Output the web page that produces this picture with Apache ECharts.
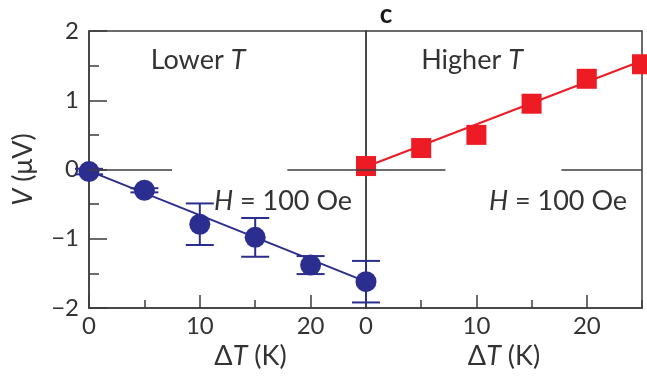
<!DOCTYPE html>
<html>
<head>
<meta charset="utf-8">
<script src="https://cdn.jsdelivr.net/npm/echarts@6/dist/echarts.min.js"></script>
<style>
html,body{margin:0;padding:0;background:#fff;}
#chart{width:647px;height:380px;}
</style>
</head>
<body>
<div id="chart"></div>
<script>
// ---- data ----
const lowerX = [0, 5, 10, 15, 20, 25];
const lowerV = [-0.03, -0.30, -0.79, -0.98, -1.38, -1.62];
const lowerErr = [0.04, 0.03, 0.30, 0.28, 0.13, 0.30];
const higherX = [0, 5, 10, 15, 20, 25];
const higherV = [0.05, 0.31, 0.50, 0.95, 1.31, 1.52];
const lowerFitX = [0, 25];
const lowerFitV = [-0.02, -1.62];
const higherFitX = [0, 25];
const higherFitV = [0.04, 1.57];
const zeroSegLeft = [[0, 7.5], [17.9, 25]];
const zeroSegRight = [[0, 7.2], [17.7, 25]];
const xMin = 0, xMax = 25, xMajor = 10, xMinor = 5;
const yMin = -2, yMax = 2, yMajor = 1;

const FONT = 'Lato';
const TXT = '#333333';
const AX = '#3c3c3c';
const BLUE = '#2b2e8e';
const RED = '#ed1c24';

const pairs = (xs, ys) => xs.map((x, i) => [x, ys[i]]);
const segs = s => s.map(p => [{coord: [p[0], 0]}, {coord: [p[1], 0]}]);

function xMain(gridIndex, namePad) {
  return {
    type: 'value', gridIndex, min: xMin, max: xMax, interval: xMajor, position: 'bottom',
    axisLine: {show: true, onZero: false, lineStyle: {color: AX, width: 1.5}},
    axisTick: {show: true, inside: true, length: 13, lineStyle: {color: AX, width: 1.5}},
    axisLabel: {show: true, margin: 6, fontSize: 24, fontFamily: FONT, color: TXT, showMaxLabel: false},
    splitLine: {show: false},
    name: 'Δ{i|T} (K)', nameLocation: 'middle', nameGap: 34,
    nameTextStyle: {fontSize: 27, fontFamily: FONT, color: TXT, padding: namePad,
      rich: {i: {fontStyle: 'italic', fontSize: 27, fontFamily: FONT, color: TXT}}}
  };
}
function xMinorAxis(gridIndex) {
  return {
    type: 'value', gridIndex, min: xMin, max: xMax, interval: xMinor, position: 'bottom',
    axisLine: {show: false, onZero: false},
    axisTick: {show: true, inside: true, length: 8, lineStyle: {color: AX, width: 1.5}},
    axisLabel: {show: false}, splitLine: {show: false}
  };
}

const option = {
  animation: false,
  backgroundColor: '#fff',
  grid: [
    {left: 89, top: 31, width: 277, height: 277, show: true, borderColor: AX, borderWidth: 1.5},
    {left: 366, top: 31, width: 276, height: 277, show: true, borderColor: AX, borderWidth: 1.5}
  ],
  xAxis: [xMain(0, [0, 0, 0, 46]), xMinorAxis(0), xMain(1, [0, 0, 0, 0]), xMinorAxis(1)],
  yAxis: [
    {
      type: 'value', gridIndex: 0, min: yMin, max: yMax, interval: yMajor, position: 'left',
      axisLine: {show: true, onZero: false, lineStyle: {color: AX, width: 1.5}},
      axisTick: {show: true, inside: true, length: 18, lineStyle: {color: AX, width: 1.5}},
      minorTick: {show: true, splitNumber: 2, length: 10, lineStyle: {color: AX, width: 1.5}},
      axisLabel: {margin: 10, fontSize: 24, fontFamily: FONT, color: TXT,
        formatter: v => (v < 0 ? '\u2212' + Math.abs(v) : String(v))},
      splitLine: {show: false},
      name: '{i|V} (μV)', nameLocation: 'middle', nameGap: 52, nameRotate: 90,
      nameTextStyle: {fontSize: 27, fontFamily: FONT, color: TXT,
        rich: {i: {fontStyle: 'italic', fontSize: 27, fontFamily: FONT, color: TXT}}}
    },
    {
      type: 'value', gridIndex: 1, min: yMin, max: yMax, interval: yMajor, position: 'left',
      axisLine: {show: false, onZero: false}, axisTick: {show: false}, axisLabel: {show: false}, splitLine: {show: false}
    }
  ],
  series: [
    {
      type: 'line', xAxisIndex: 0, yAxisIndex: 0, data: [], silent: true,
      markLine: {symbol: 'none', silent: true, label: {show: false},
        lineStyle: {color: AX, width: 1.5, type: 'solid'}, data: segs(zeroSegLeft)}
    },
    {
      type: 'line', xAxisIndex: 2, yAxisIndex: 1, data: [], silent: true,
      markLine: {symbol: 'none', silent: true, label: {show: false},
        lineStyle: {color: AX, width: 1.5, type: 'solid'}, data: segs(zeroSegRight)}
    },
    {
      type: 'line', xAxisIndex: 0, yAxisIndex: 0, data: pairs(lowerFitX, lowerFitV),
      showSymbol: false, symbol: 'none', clip: false, lineStyle: {color: BLUE, width: 2}
    },
    {
      type: 'line', xAxisIndex: 2, yAxisIndex: 1, data: pairs(higherFitX, higherFitV),
      showSymbol: false, symbol: 'none', clip: false, lineStyle: {color: RED, width: 2}
    },
    {
      type: 'custom', xAxisIndex: 0, yAxisIndex: 0, clip: false,
      data: lowerX.map((x, i) => [x, lowerV[i], lowerErr[i]]),
      renderItem: function (params, api) {
        const x = api.value(0), y = api.value(1), e = api.value(2);
        const hi = api.coord([x, y + e]);
        const lo = api.coord([x, y - e]);
        const w = 14;
        const st = {stroke: BLUE, lineWidth: 2};
        return {type: 'group', children: [
          {type: 'line', shape: {x1: hi[0], y1: hi[1], x2: lo[0], y2: lo[1]}, style: st},
          {type: 'line', shape: {x1: hi[0] - w, y1: hi[1], x2: hi[0] + w, y2: hi[1]}, style: st},
          {type: 'line', shape: {x1: lo[0] - w, y1: lo[1], x2: lo[0] + w, y2: lo[1]}, style: st}
        ]};
      }
    },
    {
      type: 'scatter', xAxisIndex: 0, yAxisIndex: 0, clip: false,
      data: pairs(lowerX, lowerV), symbol: 'circle', symbolSize: 21,
      itemStyle: {color: BLUE, opacity: 1}
    },
    {
      type: 'scatter', xAxisIndex: 2, yAxisIndex: 1, clip: false,
      data: pairs(higherX, higherV), symbol: 'rect', symbolSize: 20,
      itemStyle: {color: RED, opacity: 1}
    }
  ],
  graphic: [
    {type: 'text', x: 386, y: 15, style: {text: 'c', font: 'bold 26px ' + FONT, fill: '#1a1a1a', align: 'center', verticalAlign: 'middle'}},
    {type: 'text', x: 198, y: 60, style: {text: '{n|Lower }{i|T}', align: 'center', verticalAlign: 'middle',
      rich: {n: {fontSize: 27, fontFamily: FONT, fill: TXT, color: TXT}, i: {fontSize: 27, fontFamily: FONT, fontStyle: 'italic', fill: TXT, color: TXT}}}},
    {type: 'text', x: 472, y: 60, style: {text: '{n|Higher }{i|T}', align: 'center', verticalAlign: 'middle',
      rich: {n: {fontSize: 27, fontFamily: FONT, fill: TXT, color: TXT}, i: {fontSize: 27, fontFamily: FONT, fontStyle: 'italic', fill: TXT, color: TXT}}}},
    {type: 'text', x: 283, y: 201, style: {text: '{i|H}{n| = 100 Oe}', align: 'center', verticalAlign: 'middle',
      rich: {n: {fontSize: 27, fontFamily: FONT, fill: TXT, color: TXT}, i: {fontSize: 27, fontFamily: FONT, fontStyle: 'italic', fill: TXT, color: TXT}}}},
    {type: 'text', x: 558, y: 201, style: {text: '{i|H}{n| = 100 Oe}', align: 'center', verticalAlign: 'middle',
      rich: {n: {fontSize: 27, fontFamily: FONT, fill: TXT, color: TXT}, i: {fontSize: 27, fontFamily: FONT, fontStyle: 'italic', fill: TXT, color: TXT}}}}
  ]
};

const chart = echarts.init(document.getElementById('chart'), null, {renderer: 'canvas'});
chart.setOption(option);
</script>
</body>
</html>
